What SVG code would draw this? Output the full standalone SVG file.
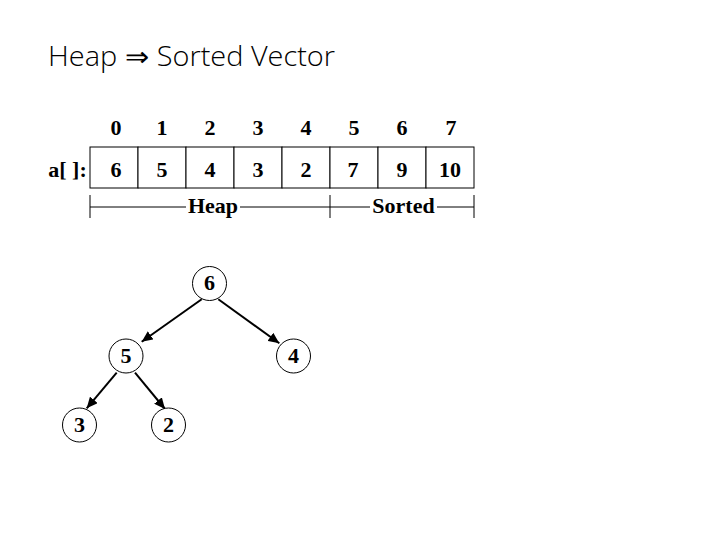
<svg xmlns="http://www.w3.org/2000/svg" width="720" height="540" viewBox="0 0 720 540">
<style>
.t{font-family:"Liberation Serif","Times New Roman",serif;font-weight:bold;font-size:22px;text-anchor:middle;fill:#000}
.cell{fill:#fff;stroke:#000;stroke-width:1}
.ln{stroke:#000;stroke-width:1;fill:none}
.node circle{fill:#fff;stroke:#000;stroke-width:1}
.edge{stroke:#000;stroke-width:2;fill:none;marker-end:url(#ah)}
</style>
<defs>
<marker id="ah" markerUnits="userSpaceOnUse" markerWidth="12" markerHeight="10" refX="11" refY="5" orient="auto">
<path d="M0,0 L11,5 L0,10 Z" fill="#000"/>
</marker>
</defs>
<rect width="720" height="540" fill="#fff"/>
<text x="48" y="66" font-family="'Open Sans','Noto Sans',sans-serif" font-weight="300" font-size="27" textLength="287" lengthAdjust="spacingAndGlyphs" fill="#000">Heap ⇒ Sorted Vector</text>
<g id="indices">
<text class="t" x="116" y="135">0</text>
<text class="t" x="162" y="135">1</text>
<text class="t" x="210" y="135">2</text>
<text class="t" x="258" y="135">3</text>
<text class="t" x="306" y="135">4</text>
<text class="t" x="354" y="135">5</text>
<text class="t" x="402" y="135">6</text>
<text class="t" x="451" y="135">7</text>
</g>
<g id="array">
<text class="t" x="67.5" y="177">a[ ]:</text>
<rect class="cell" x="90" y="147" width="48" height="41"/>
<rect class="cell" x="138" y="147" width="48" height="41"/>
<rect class="cell" x="186" y="147" width="48" height="41"/>
<rect class="cell" x="234" y="147" width="48" height="41"/>
<rect class="cell" x="282" y="147" width="48" height="41"/>
<rect class="cell" x="330" y="147" width="48" height="41"/>
<rect class="cell" x="378" y="147" width="48" height="41"/>
<rect class="cell" x="426" y="147" width="48" height="41"/>
<text class="t" x="116" y="177">6</text>
<text class="t" x="162" y="177">5</text>
<text class="t" x="210" y="177">4</text>
<text class="t" x="258" y="177">3</text>
<text class="t" x="306" y="177">2</text>
<text class="t" x="353" y="177" font-weight="normal">7</text>
<text class="t" x="402" y="177">9</text>
<text class="t" x="450" y="177">10</text>
</g>
<g id="brackets">
<path class="ln" d="M90,195 V218 M330,195 V218 M474,195 V218 M90,207 H186 M240,207 H330 M330,207 H370 M437,207 H474"/>
<text class="t" x="213" y="213">Heap</text>
<text class="t" x="403.5" y="213">Sorted</text>
</g>
<g id="connectors">
<line class="edge" x1="201.7" y1="299.3" x2="141.7" y2="341.7"/>
<line class="edge" x1="218.3" y1="299.3" x2="279.3" y2="343.3"/>
<line class="edge" x1="116.7" y1="372.7" x2="86.7" y2="408.3"/>
<line class="edge" x1="135" y1="372.7" x2="165" y2="409"/>
</g>
<g id="n6" class="node"><circle cx="209.5" cy="283.5" r="17"/><text class="t" x="209.5" y="290">6</text></g>
<g id="n5" class="node"><circle cx="126" cy="356" r="17"/><text class="t" x="126" y="362.5">5</text></g>
<g id="n4" class="node"><circle cx="293.5" cy="356" r="17"/><text class="t" x="293.5" y="362.5">4</text></g>
<g id="n3" class="node"><circle cx="79.5" cy="425" r="17"/><text class="t" x="79.5" y="431.5">3</text></g>
<g id="n2" class="node"><circle cx="168.5" cy="425" r="17"/><text class="t" x="168.5" y="431.5">2</text></g>
</svg>
